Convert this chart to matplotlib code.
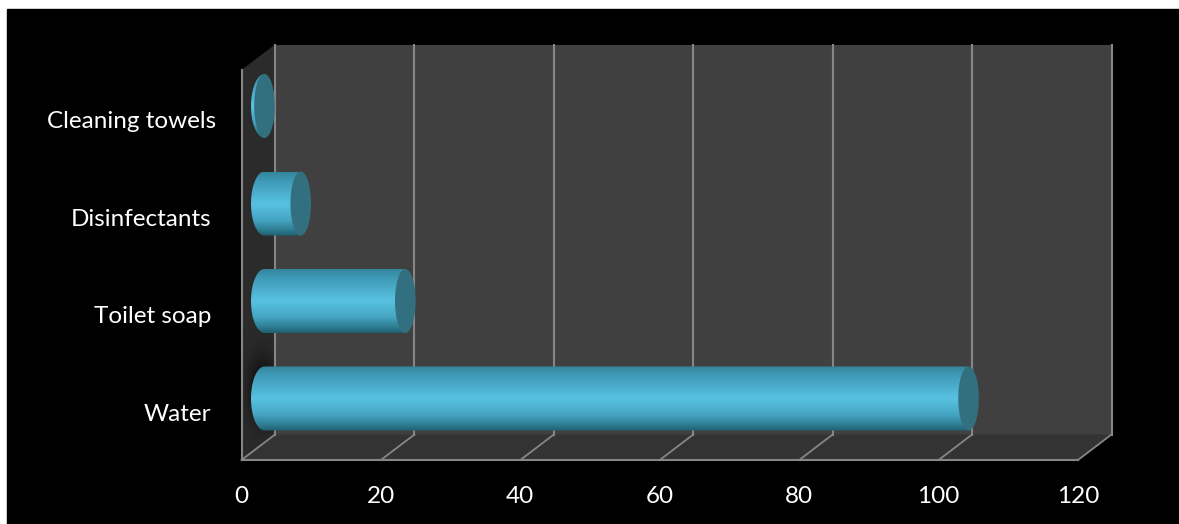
import numpy as np
import matplotlib
matplotlib.use("Agg")
import matplotlib.pyplot as plt
from matplotlib.colors import LinearSegmentedColormap
from matplotlib.patches import Ellipse, Polygon, Rectangle
from matplotlib.path import Path

plt.rcParams['font.family'] = ['Lato', 'DejaVu Sans']

categories = ["Water", "Toilet soap", "Disinfectants", "Cleaning towels"]
values = [101.5, 20.7, 5.7, 0.5]
xticks = [0, 20, 40, 60, 80, 100, 120]

W, H = 1179, 524
fig = plt.figure(figsize=(W / 100, H / 100), dpi=100, facecolor="white")
fig.add_artist(Rectangle((7 / W, 0), 1, 1 - 9 / H, transform=fig.transFigure, color="black", zorder=-10))

ax = fig.add_axes([241.5 / W, 1 - 460 / H, (1078 - 241.5) / W, 390 / H])
ax.patch.set_visible(False)
for s in ax.spines.values():
    s.set_visible(False)

# pixels to data units
px = 120 / 836.5
py = 4 / 390

# depth of the fake 3d box
dx = 33.5 * px
dy = 25.5 * py
ymin, ymax = -0.5, 3.5
xmax = xticks[-1]

wall = Polygon([(0, ymax), (dx, ymax + dy), (dx, ymin + dy), (0, ymin)], color="#2b2b2b", lw=0, zorder=1, clip_on=False)
ax.add_patch(wall)
ax.add_patch(Polygon([(dx, ymin + dy), (xmax + dx, ymin + dy), (xmax + dx, ymax + dy), (dx, ymax + dy)], color="#404040", lw=0, zorder=1, clip_on=False))
ax.add_patch(Polygon([(0, ymin), (dx, ymin + dy), (xmax + dx, ymin + dy), (xmax, ymin)], color="#333333", lw=0, zorder=1, clip_on=False))

# soft shadow of the water bar on the side wall
gx, gy = np.meshgrid(np.linspace(-1, 1, 80), np.linspace(-1, 1, 120))
alpha = 0.75 * np.exp(-(gx ** 2 + gy ** 2) * 3.5)
blob = np.zeros(gx.shape + (4,))
blob[..., 3] = alpha
sh = ax.imshow(blob, aspect="auto", zorder=1.5,
               extent=(-5 * px, 45 * px, -0.5 + 8 * py, 0.5 + 35 * py))
sh.set_clip_path(wall)

grid = "#868686"
for t in xticks:
    ax.plot([t + dx, t + dx], [ymin + dy, ymax + dy], color=grid, lw=1.5, zorder=2, clip_on=False)
    ax.plot([t, t + dx], [ymin, ymin + dy], color=grid, lw=1.3, zorder=2, clip_on=False)
ax.plot([0, xmax], [ymin, ymin], color=grid, lw=1.5, zorder=2, clip_on=False)
ax.plot([0, 0], [ymin, ymax], color=grid, lw=1.5, zorder=2, clip_on=False)

shade = LinearSegmentedColormap.from_list("bar", [
    (0.0, "#33859c"), (0.15, "#409cb8"), (0.5, "#58c2e2"), (0.75, "#45a5c2"), (0.9, "#2f7f95"), (1.0, "#215f71")])
grad = np.linspace(0, 1, 128).reshape(-1, 1)

x0 = 19.5 * px
y_shift = dy / 2
half_h = 32 * py
cap_w = 10.3 * px
left_w = 13.5 * px
left_c = x0 + 3.5 * px
theta = np.linspace(np.pi / 2, 3 * np.pi / 2, 60)

for i, v in enumerate(values):
    yc = i + y_shift
    end = x0 + v
    verts = [(end, yc + half_h)]
    verts += list(zip(left_c + left_w * np.cos(theta), yc + half_h * np.sin(theta)))
    verts += [(end, yc - half_h), (end, yc + half_h)]
    im = ax.imshow(grad, cmap=shade, aspect="auto", origin="upper", zorder=3,
                   extent=(left_c - left_w, end, yc - half_h, yc + half_h))
    im.set_clip_path(Path(verts), ax.transData)
    ax.add_patch(Ellipse((end, yc), 2 * cap_w, 2 * half_h, color="#33707f", lw=0, zorder=4, clip_on=False))

ax.set_xlim(0, xmax)
ax.set_ylim(ymin, ymax)
ax.set_xticks(xticks)
ax.set_xticklabels([str(t) for t in xticks], color="white", fontsize=17.5)
ax.tick_params(axis="x", length=0, pad=18.5)
ax.set_yticks([])
for i, c in enumerate(categories):
    off = -18 if c == "Cleaning towels" else -22
    ax.annotate(c, (0, i), xytext=(off, -2), textcoords="offset points", ha="right", va="center",
                color="white", fontsize=17.5, annotation_clip=False)

fig.savefig("out.png", dpi=100, facecolor=fig.get_facecolor())
